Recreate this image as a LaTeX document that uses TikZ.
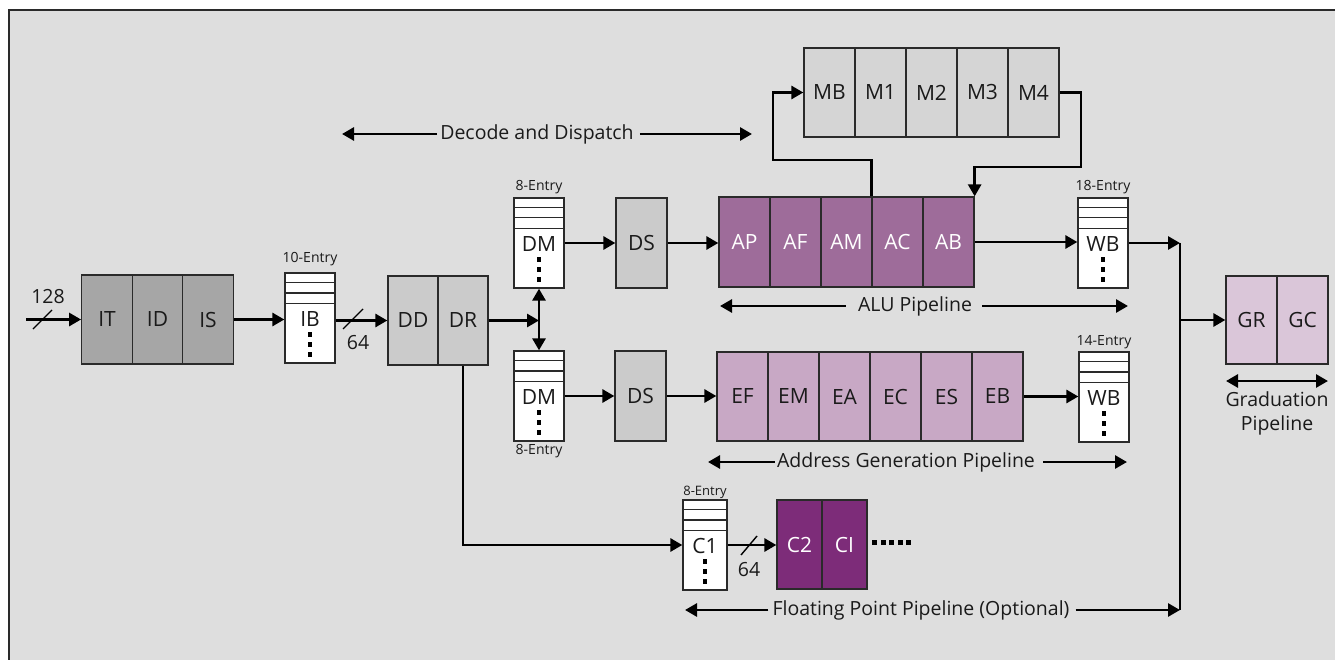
\documentclass[tikz,border=0pt]{standalone}
\usepackage{fontspec}
\setmainfont{Open Sans}
\usetikzlibrary{arrows.meta,calc}
\definecolor{bgc}{HTML}{DEDEDE}
\definecolor{edge}{HTML}{2A2A2A}
\definecolor{txt}{HTML}{1A1A1A}
\definecolor{dgray}{HTML}{A6A6A6}
\definecolor{lgray}{HTML}{CBCBCB}
\definecolor{mgray}{HTML}{D5D5D5}
\definecolor{alu}{HTML}{9E6C9A}
\definecolor{agen}{HTML}{C8A8C5}
\definecolor{grad}{HTML}{DAC6D9}
\definecolor{fpu}{HTML}{7D2C79}
\newcommand\mybuf[5]{%
  \node[buf, minimum width=#4pt] (#1) at (#2,#3+45) {};
  \draw[bufline] ($(#1.north west)+(0,10)$) -- ($(#1.north east)+(0,10)$)
                 ($(#1.north west)+(0,20.5)$) -- ($(#1.north east)+(0,20.5)$)
                 ($(#1.north west)+(0,31)$) -- ($(#1.north east)+(0,31)$);
  \node[txt, font=\fontsize{21}{24}\selectfont] at ($(#1.north)+(0,47)$) {#5};
  \foreach \d in {62,72,82} \fill[txt] ($(#1.north)+(-2.3,\d-2.3)$) rectangle ++(4.6,4.6);
}
\begin{document}
\begin{tikzpicture}[x=1pt,y=-1pt,
  txt/.style={text=txt, inner sep=0pt, font=\fontsize{19.5}{24}\selectfont},
  small/.style={text=txt, inner sep=0pt, font=\fontsize{14}{16}\selectfont},
  cell/.style={draw=edge, line width=1.3pt, minimum width=51pt, minimum height=89pt, inner sep=0pt, text=txt, font=\fontsize{21}{24}\selectfont},
  buf/.style={draw=edge, fill=white, line width=1.3pt, minimum height=90pt, inner sep=0pt},
  bufline/.style={draw=edge, line width=1.3pt},
  arr/.style={draw=black, line width=2.8pt, -{Triangle[length=12pt,width=13pt]}},
  darr/.style={draw=black, line width=2.8pt, {Triangle[length=12pt,width=13pt]}-{Triangle[length=12pt,width=13pt]}},
  wire/.style={draw=black, line width=2.8pt},
  slash/.style={draw=black, line width=1.4pt}]
\useasboundingbox (0,0) rectangle (1335,660);
% frame
\fill[bgc] (9,10) rectangle (1345,670);
\draw[edge, line width=1.6pt] (9,670) -- (9,10) -- (1345,10);

% fetch
\node[cell, fill=dgray, minimum width=50.5pt] (IT) at (107,319.5) {IT};
\node[cell, fill=dgray, minimum width=50.5pt] (ID) at (157.5,319.5) {ID};
\node[cell, fill=dgray, minimum width=50.5pt] (IS) at (208,319.5) {IS};
\coordinate (in) at (26,319.5);
\draw[arr] (in) -- (IT.west);
\draw[slash] (33,329) -- (52,310);
\node[txt] at (48,297) {128};

% IB
\mybuf{IB}{310}{273}{50}{IB}
\node[small] at (310,259) {10-Entry};
\draw[arr] (IS.east) -- (IS.east -| IB.west);

% decode
\node[cell, fill=lgray, minimum width=50pt] (DD) at (413,320.5) {DD};
\node[cell, fill=lgray, minimum width=50pt] (DR) at (463,320.5) {DR};
\draw[arr] (IB.east |- DD.west) -- (DD.west);
\draw[slash] (343,329) -- (363,309);
\node[txt] at (358,343) {64};

% dispatch buffers
\mybuf{DM1}{539}{198}{50}{DM}
\node[small] at (539,187) {8-Entry};
\mybuf{DM2}{539}{351}{50}{DM}
\node[small] at (539,451) {8-Entry};
\coordinate (jd) at (539,320.5);
\draw[arr] (DR.east) -- (jd);
\draw[darr] (DM1.south) -- (DM2.north);

\node[cell, fill=lgray, minimum height=90pt] (DS1) at (641.5,243) {DS};
\node[cell, fill=lgray, minimum height=90pt] (DS2) at (640.5,396) {DS};
\draw[arr] (DM1.east) -- (DS1.west);
\draw[arr] (DM2.east) -- (DS2.west);

% ALU pipeline
\node[cell, fill=alu, text=white, minimum height=90pt] (AP) at (744.5,242) {AP};
\node[cell, fill=alu, text=white, minimum height=90pt] (AF) at (795.5,242) {AF};
\node[cell, fill=alu, text=white, minimum height=90pt] (AM) at (846.5,242) {AM};
\node[cell, fill=alu, text=white, minimum height=90pt] (AC) at (897.5,242) {AC};
\node[cell, fill=alu, text=white, minimum height=90pt] (AB) at (948.5,242) {AB};
\draw[arr] (DS1.east) -- (DS1.east -| AP.west);

% multiply
\node[cell, fill=mgray] (MB) at (829.5,92.5) {MB};
\node[cell, fill=mgray] (M1) at (880.5,92.5) {M1};
\node[cell, fill=mgray] (M2) at (931.5,92.5) {M2};
\node[cell, fill=mgray] (M3) at (982.5,92.5) {M3};
\node[cell, fill=mgray] (M4) at (1033.5,92.5) {M4};
\coordinate (k1) at (773,160);
\coordinate (k2) at (1081,167);
\draw[arr] (AC.north west) |- (k1) |- (MB.west);
\draw[arr] (M4.east) -| (k2) -| (AB.north east);

% write back 1
\mybuf{WB1}{1103}{198}{50}{WB}
\node[small] at (1103,187) {18-Entry};
\draw[arr] (AB.east) -- (AB.east -| WB1.west);

% address generation pipeline
\node[cell, fill=agen] (EF) at (742.5,396.5) {EF};
\node[cell, fill=agen] (EM) at (793.5,396.5) {EM};
\node[cell, fill=agen] (EA) at (844.5,396.5) {EA};
\node[cell, fill=agen] (EC) at (895.5,396.5) {EC};
\node[cell, fill=agen] (ES) at (946.5,396.5) {ES};
\node[cell, fill=agen] (EB) at (997.5,396.5) {EB};
\draw[arr] (DS2.east) -- (DS2.east -| EF.west);
\mybuf{WB2}{1104}{352}{50}{WB}
\node[small] at (1104,342) {14-Entry};
\draw[arr] (EB.east) -- (EB.east -| WB2.west);

% graduation
\node[cell, fill=grad, minimum height=88pt] (GR) at (1251.5,320) {GR};
\node[cell, fill=grad, minimum height=88pt] (GC) at (1302.5,320) {GC};
\coordinate (J1) at (1180,243);
\coordinate (J2) at (1180,610);
\coordinate (J3) at (1180,320);
\draw[arr] (WB1.east) -- (J1);
\draw[wire] (J1) -- (J2);
\draw[arr] (J3) -- (GR.west);
\coordinate (gl) at (1226,381);
\coordinate (gr) at (1328,381);
\draw[darr] (gl) -- (gr);
\node[txt, align=center] (gradlbl) at (1277,413) {Graduation\\Pipeline};

% floating point
\mybuf{C1}{705}{500}{44}{C1}
\node[small, font=\fontsize{13}{15}\selectfont] at (705,492) {8-Entry};
\draw[arr] (DR.south) |- (C1.west);
\node[cell, fill=fpu, text=white, minimum width=45pt] (C2) at (799.5,544.5) {C2};
\node[cell, fill=fpu, text=white, minimum width=45pt] (CI) at (844.5,544.5) {CI};
\draw[arr] (C1.east) -- (C1.east -| C2.west);
\draw[slash] (741,555) -- (757,536);
\node[txt] at (749,570) {64};
\foreach \i in {0,...,4} \fill[txt] (872+\i*8.6,539.5) rectangle ++(5,5);

% pipeline labels
\node[txt] (dd) at (537,134) {Decode and Dispatch};
\coordinate (ddL) at (342,134);
\coordinate (ddR) at (752,134);
\draw[arr] ($(dd.west)+(-3,0)$) -- (ddL);
\draw[arr] ($(dd.east)+(6,0)$) -- (ddR);

\node[txt] (alul) at (915,306) {ALU Pipeline};
\coordinate (aluL) at (720,306);
\coordinate (aluR) at (1128,306);
\draw[arr] ($(alul.west)+(-12,0)$) -- (aluL);
\draw[arr] ($(alul.east)+(10,0)$) -- (aluR);

\node[txt] (agl) at (906,462) {Address Generation Pipeline};
\coordinate (agL) at (708,462);
\coordinate (agR) at (1127,462);
\draw[arr] ($(agl.west)+(-2,0)$) -- (agL);
\draw[arr] ($(agl.east)+(8,0)$) -- (agR);

\node[txt] (fpl) at (921,610) {Floating Point Pipeline (Optional)};
\coordinate (fpL) at (685,610);
\draw[arr] ($(fpl.west)+(-4,0)$) -- (fpL);
\draw[arr] ($(fpl.east)+(6,0)$) -- (J2);
\end{tikzpicture}
\end{document}
